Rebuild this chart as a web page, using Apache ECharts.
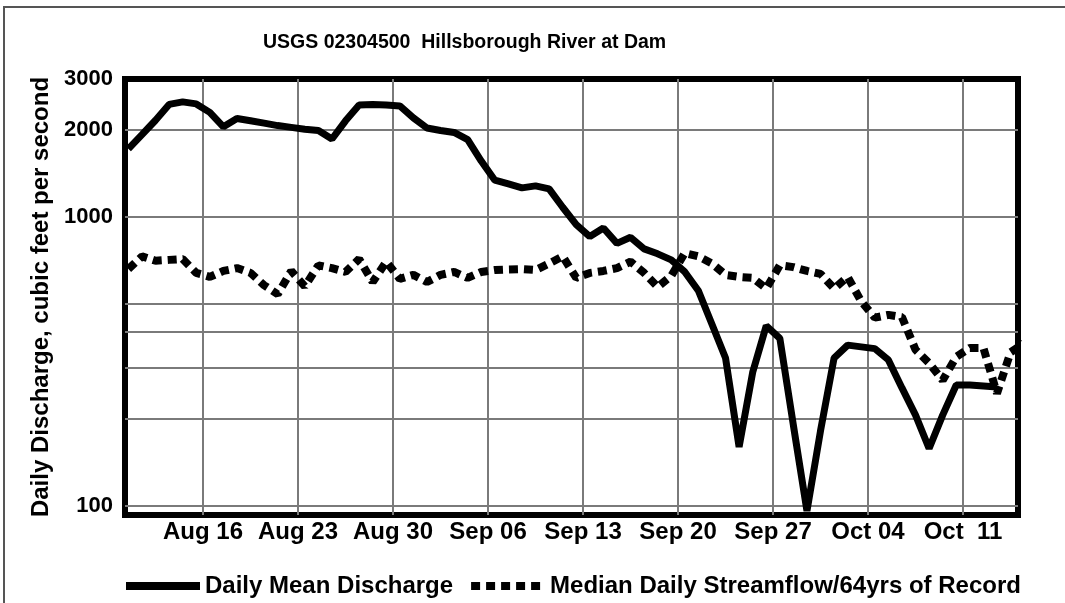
<!DOCTYPE html>
<html>
<head>
<meta charset="utf-8">
<title>USGS 02304500 Hillsborough River at Dam</title>
<script src="https://cdn.jsdelivr.net/npm/echarts@6/dist/echarts.min.js"></script>
<style>
  html, body { margin: 0; padding: 0; background: #fff; }
  #chart { width: 1065px; height: 603px; }
</style>
</head>
<body>
<div id="chart"></div>
<script>
// x = days counted from Aug 16 00:00, daily values sit at noon
const firstDay = -6; // Aug 10
const tickDays = [0, 7, 14, 21, 28, 35, 42, 49, 56];
const tickLabels = ['Aug 16', 'Aug 23', 'Aug 30', 'Sep 06', 'Sep 13', 'Sep 20', 'Sep 27', 'Oct 04', 'Oct  11'];
const gridValues = [100, 200, 300, 400, 500, 1000, 2000];
const labelValues = [100, 1000, 2000, 3000];

// daily mean discharge, Aug 10 .. Oct 13
const meanFlow = [
  1720, 1925, 2160, 2450, 2500, 2460, 2300, 2050, 2190, 2150, 2110,
  2070, 2040, 2010, 1990, 1860, 2150, 2440, 2450, 2440, 2420, 2200,
  2030, 1990, 1960, 1850, 1560, 1340, 1300, 1260, 1280, 1250, 1080,
  940, 855, 915, 810, 850, 775, 745, 710, 645, 555, 425, 325, 160,
  290, 420, 380, 190, 96, 182, 325, 360, 355, 350, 320, 256, 206,
  158, 206, 262, 262, 260, 258
];

// median daily streamflow, Aug 10 .. Oct 15
const medianFlow = [
  660, 730, 705, 710, 715, 640, 620, 650, 665, 640, 580,
  540, 650, 575, 680, 665, 645, 715, 595, 700, 610, 630,
  595, 630, 645, 615, 645, 655, 658, 660, 655, 690, 730,
  615, 640, 650, 665, 700, 640, 572, 625, 750, 730, 690,
  630, 620, 615, 565, 680, 670, 650, 635, 565, 620, 510,
  448, 458, 450, 347, 312, 272, 328, 352, 352, 245, 340, 365
];

const FONT = '"Liberation Sans", Arial, Helvetica, sans-serif';
const GRID_COLOR = '#7a7a7a';

function toPoints(values) {
  return values.map((v, i) => [firstDay + i + 0.5, v]);
}

const chart = echarts.init(document.getElementById('chart'));

const options = {
  animation: false,
  color: ['#000', '#000'],
  title: {
    text: 'USGS 02304500  Hillsborough River at Dam',
    left: 258,
    top: 28,
    textStyle: { fontFamily: FONT, fontWeight: 'bold', fontSize: 19.5, color: '#000' }
  },
  grid: {
    left: 125,
    right: 47,
    top: 79,
    bottom: 88,
    show: true,
    borderColor: '#000',
    borderWidth: 6,
    backgroundColor: 'transparent'
  },
  legend: {
    left: 117,
    top: 569,
    itemWidth: 74,
    itemHeight: 14,
    itemGap: 14,
    selectedMode: false,
    // hide the round marker, keep only the line sample
    itemStyle: { color: 'transparent', borderWidth: 0, opacity: 0 },
    lineStyle: { width: 8 },
    textStyle: { fontFamily: FONT, fontWeight: 'bold', fontSize: 24, color: '#000' },
    data: ['Daily Mean Discharge', 'Median Daily Streamflow/64yrs of Record']
  },
  xAxis: {
    type: 'value',
    min: -5.75,
    max: 60.05,
    axisLine: { show: false },
    axisTick: { show: false, customValues: tickDays },
    splitLine: { show: true, lineStyle: { color: GRID_COLOR, width: 2 } },
    axisLabel: {
      customValues: tickDays,
      formatter: (v) => {
        const i = tickDays.indexOf(Math.round(v));
        return i >= 0 ? tickLabels[i] : '';
      },
      fontFamily: FONT,
      fontWeight: 'bold',
      fontSize: 24,
      color: '#000',
      margin: 5
    }
  },
  yAxis: {
    type: 'log',
    logBase: 10,
    min: 93,
    max: 3000,
    name: 'Daily Discharge, cubic feet per second',
    nameLocation: 'middle',
    nameGap: 72,
    nameTextStyle: { fontFamily: FONT, fontWeight: 'bold', fontSize: 24, color: '#000' },
    axisLine: { show: false },
    axisTick: { show: false, customValues: gridValues },
    splitLine: { show: true, lineStyle: { color: GRID_COLOR, width: 2 } },
    axisLabel: {
      customValues: labelValues,
      formatter: (v) => String(Math.round(v)),
      fontFamily: FONT,
      fontWeight: 'bold',
      fontSize: 22,
      color: '#000',
      margin: 12
    }
  },
  graphic: [
    {
      type: 'polyline',
      shape: { points: [[4, 603], [4, 7], [1065, 7]] },
      style: { stroke: '#555', lineWidth: 2, fill: null },
      silent: true
    }
  ],
  series: [
    {
      name: 'Daily Mean Discharge',
      type: 'line',
      data: toPoints(meanFlow),
      symbol: 'none',
      z: 3,
      itemStyle: { color: '#000' },
      lineStyle: { color: '#000', width: 7, join: 'bevel' }
    },
    {
      name: 'Median Daily Streamflow/64yrs of Record',
      type: 'line',
      data: toPoints(medianFlow),
      symbol: 'none',
      z: 2,
      itemStyle: { color: '#000' },
      lineStyle: { color: '#000', width: 8, type: [9, 6] }
    }
  ]
};

chart.setOption(options);
</script>
</body>
</html>
